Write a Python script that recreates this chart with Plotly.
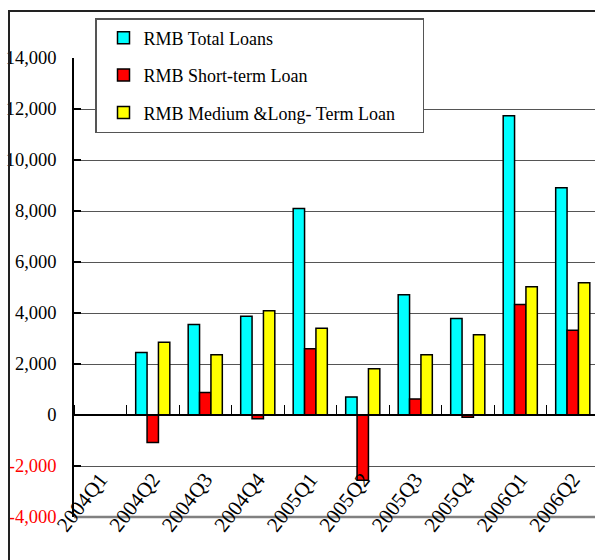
import plotly.graph_objects as go

# Quarterly new RMB loans (100 million yuan)
quarters = ["2004Q1", "2004Q2", "2004Q3", "2004Q4", "2005Q1",
            "2005Q2", "2005Q3", "2005Q4", "2006Q1", "2006Q2"]
total_loans = [None, 2450, 3550, 3870, 8100, 710, 4720, 3780, 11740, 8910]
short_term = [None, -1080, 880, -150, 2600, -2560, 630, -90, 4330, 3320]
medium_long = [None, 2850, 2360, 4090, 3400, 1810, 2360, 3150, 5030, 5190]

y_ticks = [-4000, -2000, 0, 2000, 4000, 6000, 8000, 10000, 12000, 14000]

FONT = "'Liberation Serif', 'Times New Roman', 'DejaVu Serif', serif"
W, H = 595, 560
L, R, T, B = 74, 0, 58, 43
plot_w = W - L - R
plot_h = H - T - B


def tick_label(v):
    s = f"{v:,}"
    if v < 0:
        return f'<span style="color:#ff0000">{s}</span>'
    return s


# legend names; trailing no-break spaces widen the legend box a little
series = [
    ("RMB Total Loans", total_loans, "#00ffff"),
    ("RMB Short-term Loan", short_term, "#ff0000"),
    ("RMB Medium &Long- Term Loan" + "\u00a0" * 5, medium_long, "#ffff00"),
]

fig = go.Figure()
for i, (name, vals, color) in enumerate(series):
    fig.add_trace(go.Bar(
        x=quarters, y=vals, name=name, legendgroup=f"g{i}",
        marker=dict(color=color, line=dict(color="#000000", width=1.5)),
        hoverinfo="skip",
    ))

# category axis drawn along the zero line, with upward boundary ticks
fig.add_trace(go.Scatter(
    x=quarters, y=[None] * len(quarters), xaxis="x2", yaxis="y",
    mode="markers", showlegend=False, hoverinfo="skip",
))

y_lo, y_hi = -4000, 14000
zero_pos = (0 - y_lo) / (y_hi - y_lo)
n = len(quarters)

fig.update_layout(
    width=W, height=H,
    margin=dict(l=L, r=R, t=T, b=B, autoexpand=False),
    paper_bgcolor="#ffffff", plot_bgcolor="#ffffff",
    font=dict(family=FONT, color="#000000"),
    barmode="group", bargap=0.35, bargroupgap=0,
    showlegend=True,
    legend=dict(
        x=(95 - L) / plot_w, y=(H - B - 18) / plot_h,
        xanchor="left", yanchor="top",
        bgcolor="#ffffff", bordercolor="#555555", borderwidth=1.5,
        font=dict(family=FONT, size=18, color="#000000"),
        traceorder="grouped", tracegroupgap=11, indentation=7,
    ),
    xaxis=dict(
        type="category", categoryorder="array", categoryarray=quarters,
        range=[-0.5, n - 0.5 - 4 / 52.5],
        anchor="free", position=0.12,
        showline=False, showgrid=False, zeroline=False,
        ticks="", tickangle=-52,
        tickfont=dict(family=FONT, size=21, color="#000000"),
    ),
    xaxis2=dict(
        type="category", categoryorder="array", categoryarray=quarters,
        overlaying="x", matches="x",
        anchor="free", position=zero_pos, side="top",
        showline=True, linecolor="#000000", linewidth=1.5,
        ticks="outside", ticklen=9, tickwidth=1.2, tickcolor="#000000",
        tickson="boundaries", showticklabels=False,
        showgrid=False, zeroline=False,
    ),
    yaxis=dict(
        range=[y_lo, y_hi],
        tickvals=y_ticks, ticktext=[tick_label(v) for v in y_ticks],
        showline=True, linecolor="#000000", linewidth=1.5,
        ticks="inside", ticklen=7, tickwidth=1.5, tickcolor="#000000",
        ticklabelstandoff=12,
        showgrid=True, gridcolor="#555555", gridwidth=1,
        zeroline=False,
        tickfont=dict(family=FONT, size=18.5, color="#000000"),
    ),
    shapes=[
        # bottom gridline of the value axis
        dict(type="line", xref="paper", yref="paper", x0=0, x1=1,
             y0=0, y1=0, line=dict(color="#808080", width=2.5),
             layer="below"),
        # chart-area border
        dict(type="rect", xref="paper", yref="paper",
             x0=(9 - L) / plot_w, x1=1.1,
             y0=-0.3, y1=(H - B - 11) / plot_h,
             line=dict(color="#222222", width=2), layer="above"),
    ],
)

fig.write_html("out.html", config={"displayModeBar": False})
